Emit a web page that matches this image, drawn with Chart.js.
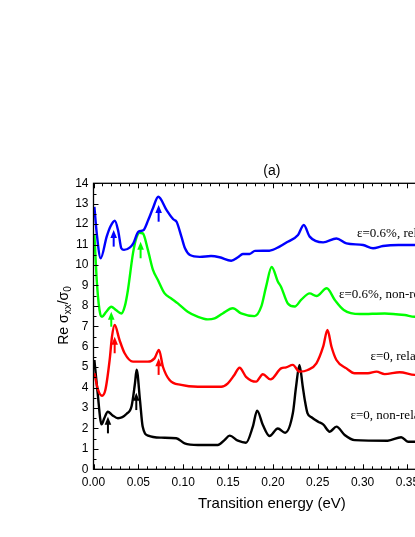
<!DOCTYPE html>
<html>
<head>
<meta charset="utf-8">
<script src="https://cdn.jsdelivr.net/npm/chart.js@4.4.1/dist/chart.umd.min.js"></script>
<style>
html, body { margin: 0; padding: 0; background: #fff; overflow: hidden; }
canvas { display: block; }
</style>
</head>
<body>
<canvas id="sigma-chart" width="470" height="537"></canvas>
<script>
// eps = 0.6 %, relaxed
const e06RelE = [0.001, 0.0035, 0.008, 0.0147, 0.019, 0.0238, 0.0277, 0.031, 0.034, 0.0407, 0.0444, 0.050, 0.0555, 0.061, 0.066, 0.0722, 0.0815, 0.0889, 0.0926, 0.098, 0.102, 0.1075, 0.1186, 0.131, 0.1405, 0.1535, 0.161, 0.1665, 0.174, 0.180, 0.196, 0.2074, 0.2166, 0.228, 0.2344, 0.241, 0.256, 0.2708, 0.282, 0.3005, 0.3116, 0.3227, 0.340, 0.358, 0.38, 0.40];
const e06RelS = [12.85, 11.6, 10.33, 11.39, 11.9, 12.17, 11.63, 10.82, 10.74, 10.86, 11.06, 11.63, 11.7, 12.2, 12.75, 13.34, 12.69, 12.24, 12.12, 11.39, 10.82, 10.49, 10.4, 10.44, 10.38, 10.21, 10.38, 10.54, 10.54, 10.69, 10.70, 10.9, 11.14, 11.47, 11.96, 11.39, 11.11, 11.3, 11.06, 10.98, 10.82, 10.93, 10.98, 10.98, 11.0, 11.0];

// eps = 0.6 %, non-relaxed
const e06NonE = [0.001, 0.004, 0.0075, 0.0095, 0.014, 0.0198, 0.025, 0.031, 0.035, 0.0384, 0.044, 0.048, 0.0514, 0.055, 0.0607, 0.0663, 0.0718, 0.0793, 0.087, 0.094, 0.105, 0.116, 0.1275, 0.135, 0.144, 0.1553, 0.1646, 0.1795, 0.187, 0.1924, 0.1986, 0.2056, 0.209, 0.2166, 0.2244, 0.2314, 0.241, 0.2485, 0.2600, 0.269, 0.279, 0.297, 0.3246, 0.347, 0.358, 0.38, 0.40];
const e06NonS = [11.5, 9.0, 7.6, 7.47, 7.7, 7.96, 7.8, 7.63, 8.0, 8.78, 10.57, 11.35, 11.58, 11.55, 10.73, 9.76, 9.27, 8.61, 8.35, 8.12, 7.71, 7.47, 7.34, 7.39, 7.63, 7.88, 7.63, 7.50, 7.96, 8.94, 9.9, 9.18, 8.94, 8.12, 7.97, 8.29, 8.61, 8.48, 8.86, 8.29, 7.80, 7.60, 7.63, 7.55, 7.47, 7.5, 7.5];

// eps = 0, relaxed
const e0RelE = [0.001, 0.005, 0.0095, 0.0132, 0.018, 0.0206, 0.0236, 0.029, 0.0347, 0.044, 0.0607, 0.068, 0.073, 0.0774, 0.0848, 0.0978, 0.1164, 0.1424, 0.1498, 0.157, 0.1628, 0.170, 0.1813, 0.1888, 0.1973, 0.2091, 0.2147, 0.2222, 0.2296, 0.2389, 0.2485, 0.256, 0.2608, 0.2653, 0.2708, 0.282, 0.291, 0.306, 0.3154, 0.3246, 0.3413, 0.358, 0.38, 0.40];
const e0RelS = [4.70, 3.9, 3.6, 3.88, 5.35, 6.49, 7.06, 6.33, 5.68, 5.27, 5.27, 5.43, 5.84, 5.02, 4.37, 4.13, 4.04, 4.04, 4.21, 4.62, 4.97, 4.53, 4.29, 4.65, 4.40, 4.94, 4.99, 5.11, 4.78, 4.86, 5.19, 6.0, 6.82, 6.0, 5.35, 4.94, 4.70, 4.70, 4.78, 4.66, 4.75, 4.62, 4.6, 4.6];

// eps = 0, non-relaxed
const e0NonE = [0.001, 0.0043, 0.009, 0.012, 0.016, 0.021, 0.0273, 0.037, 0.0425, 0.0462, 0.0481, 0.0518, 0.0548, 0.061, 0.0755, 0.0922, 0.1016, 0.1164, 0.1386, 0.146, 0.1517, 0.161, 0.170, 0.1776, 0.1824, 0.1888, 0.1962, 0.2055, 0.2136, 0.2222, 0.2258, 0.2296, 0.2333, 0.2355, 0.2385, 0.243, 0.2504, 0.256, 0.2634, 0.2708, 0.280, 0.2912, 0.328, 0.343, 0.3506, 0.358, 0.38, 0.40];
const e0NonS = [5.35, 3.88, 2.2, 2.5, 2.82, 2.65, 2.5, 2.72, 3.1, 4.2, 4.88, 3.39, 2.09, 1.65, 1.55, 1.52, 1.27, 1.19, 1.19, 1.43, 1.65, 1.40, 1.30, 2.09, 2.87, 2.17, 1.63, 2.0, 1.79, 2.74, 4.04, 5.11, 4.04, 3.4, 2.75, 2.55, 2.33, 2.2, 1.84, 2.09, 1.68, 1.43, 1.40, 1.57, 1.35, 1.35, 1.4, 1.4];

// arrows marking the transitions: energy, tail value, tip value
const e06RelArrowE = [0.0225, 0.0726];
const e06RelArrowFrom = [10.9, 12.12];
const e06RelArrowTo = [11.72, 12.94];
const e06NonArrowE = [0.0198, 0.0525];
const e06NonArrowFrom = [6.98, 10.33];
const e06NonArrowTo = [7.71, 11.14];
const e0RelArrowE = [0.0236, 0.0726];
const e0RelArrowFrom = [5.68, 4.62];
const e0RelArrowTo = [6.49, 5.43];
const e0NonArrowE = [0.0161, 0.0477];
const e0NonArrowFrom = [1.76, 2.9];
const e0NonArrowTo = [2.57, 3.75];

// curve labels and where they sit (energy, sigma)
const curveLabels = ["\u03b5=0.6%, relaxed", "\u03b5=0.6%, non-relaxed", "\u03b5=0, relaxed", "\u03b5=0, non-relaxed"];
const labelE = [0.2938, 0.2737, 0.3087, 0.2864];
const labelS = [11.37, 8.38, 5.35, 2.45];

const xTicks = [0, 0.05, 0.10, 0.15, 0.20, 0.25, 0.30, 0.35, 0.40];
const yTicks = [0, 1, 2, 3, 4, 5, 6, 7, 8, 9, 10, 11, 12, 13, 14];

const toPoints = (xs, ys) => xs.map((x, i) => ({ x: x, y: ys[i] }));

const curves = [
    { data: toPoints(e06RelE, e06RelS), color: "#0000ff", arrows: [e06RelArrowE, e06RelArrowFrom, e06RelArrowTo] },
    { data: toPoints(e06NonE, e06NonS), color: "#00ff00", arrows: [e06NonArrowE, e06NonArrowFrom, e06NonArrowTo] },
    { data: toPoints(e0RelE, e0RelS), color: "#ff0000", arrows: [e0RelArrowE, e0RelArrowFrom, e0RelArrowTo] },
    { data: toPoints(e0NonE, e0NonS), color: "#000000", arrows: [e0NonArrowE, e0NonArrowFrom, e0NonArrowTo] },
];

const framePlugin = {
    id: "framePlugin",
    afterDatasetsDraw(chart) {
        const ctx = chart.ctx;
        const area = chart.chartArea;
        const xs = chart.scales.x;
        const ys = chart.scales.y;
        ctx.save();

        // arrows
        curves.forEach((c) => {
            const [ae, af, at] = c.arrows;
            ae.forEach((e, i) => {
                const px = xs.getPixelForValue(e);
                const p0 = ys.getPixelForValue(af[i]);
                const p1 = ys.getPixelForValue(at[i]);
                ctx.strokeStyle = c.color;
                ctx.fillStyle = c.color;
                ctx.lineWidth = 2;
                ctx.beginPath();
                ctx.moveTo(px, p0);
                ctx.lineTo(px, p1 + 5);
                ctx.stroke();
                ctx.beginPath();
                ctx.moveTo(px, p1);
                ctx.lineTo(px - 3.3, p1 + 8);
                ctx.lineTo(px + 3.3, p1 + 8);
                ctx.closePath();
                ctx.fill();
            });
        });

        // frame
        ctx.strokeStyle = "#000";
        ctx.lineWidth = 1.3;
        ctx.strokeRect(area.left, area.top, area.right - area.left, area.bottom - area.top);

        // inward ticks
        ctx.lineWidth = 1;
        ctx.beginPath();
        for (let k = 0; k <= 40; k++) {
            const px = Math.round(xs.getPixelForValue(k / 100)) + 0.5;
            const len = k % 5 === 0 ? 5 : 3;
            ctx.moveTo(px, area.bottom);
            ctx.lineTo(px, area.bottom - len);
            ctx.moveTo(px, area.top);
            ctx.lineTo(px, area.top + len);
        }
        for (let k = 0; k <= 28; k++) {
            const py = Math.round(ys.getPixelForValue(k / 2)) + 0.5;
            const len = k % 2 === 0 ? 5 : 3;
            ctx.moveTo(area.left, py);
            ctx.lineTo(area.left + len, py);
            ctx.moveTo(area.right, py);
            ctx.lineTo(area.right - len, py);
        }
        ctx.stroke();

        // curve labels
        ctx.fillStyle = "#000";
        ctx.font = "13px 'Liberation Serif', 'Times New Roman', serif";
        ctx.textAlign = "left";
        ctx.textBaseline = "alphabetic";
        curveLabels.forEach((t, i) => {
            ctx.fillText(t, xs.getPixelForValue(labelE[i]), ys.getPixelForValue(labelS[i]));
        });

        // panel title and axis titles
        const cx = (area.left + area.right) / 2;
        ctx.font = "14px 'Liberation Sans', Arial, sans-serif";
        ctx.textAlign = "center";
        ctx.textBaseline = "middle";
        ctx.fillText("(a)", cx - 1, 171);
        ctx.font = "15px 'Liberation Sans', Arial, sans-serif";
        ctx.fillText("Transition energy (eV)", cx - 1, 504);

        // y title with subscripts, rotated
        ctx.translate(68, 315.5);
        ctx.rotate(-Math.PI / 2);
        ctx.textAlign = "left";
        ctx.textBaseline = "alphabetic";
        const big = "14px 'Liberation Sans', Arial, sans-serif";
        const small = "10px 'Liberation Sans', Arial, sans-serif";
        const parts = [["Re \u03c3", big, 0], ["xx", small, 3], ["/\u03c3", big, 0], ["0", small, 3]];
        let total = 0;
        parts.forEach((p) => { ctx.font = p[1]; total += ctx.measureText(p[0]).width; });
        let x0 = -total / 2;
        parts.forEach((p) => {
            ctx.font = p[1];
            ctx.fillText(p[0], x0, p[2]);
            x0 += ctx.measureText(p[0]).width;
        });
        ctx.restore();
    },
};

const ctx = document.getElementById("sigma-chart").getContext("2d");

new Chart(ctx, {
    type: "line",
    data: {
        datasets: curves.map((c) => ({
            data: c.data,
            borderColor: c.color,
            borderWidth: 2.4,
            pointRadius: 0,
            fill: false,
            cubicInterpolationMode: "monotone",
        })),
    },
    options: {
        responsive: false,
        animation: false,
        devicePixelRatio: 1,
        layout: {
            padding: { left: 0, top: 183.3, right: 17.3, bottom: 0 },
        },
        scales: {
            x: {
                type: "linear",
                min: 0,
                max: 0.40,
                grid: { display: false, drawTicks: false },
                border: { display: false },
                afterFit: (scale) => { scale.height = 67.7; },
                afterBuildTicks: (scale) => { scale.ticks = xTicks.map((v) => ({ value: v })); },
                ticks: {
                    padding: 6,
                    color: "#000",
                    font: { family: "'Liberation Sans', Arial, sans-serif", size: 12 },
                    callback: (v) => Number(v).toFixed(2),
                    autoSkip: false,
                    maxRotation: 0,
                },
            },
            y: {
                min: 0,
                max: 14,
                grid: { display: false, drawTicks: false },
                border: { display: false },
                afterFit: (scale) => { scale.width = 93.5; },
                afterBuildTicks: (scale) => { scale.ticks = yTicks.map((v) => ({ value: v })); },
                ticks: {
                    padding: 5,
                    color: "#000",
                    font: { family: "'Liberation Sans', Arial, sans-serif", size: 12 },
                    autoSkip: false,
                },
            },
        },
        plugins: {
            legend: { display: false },
            tooltip: { enabled: false },
        },
    },
    plugins: [framePlugin],
});
</script>
</body>
</html>
